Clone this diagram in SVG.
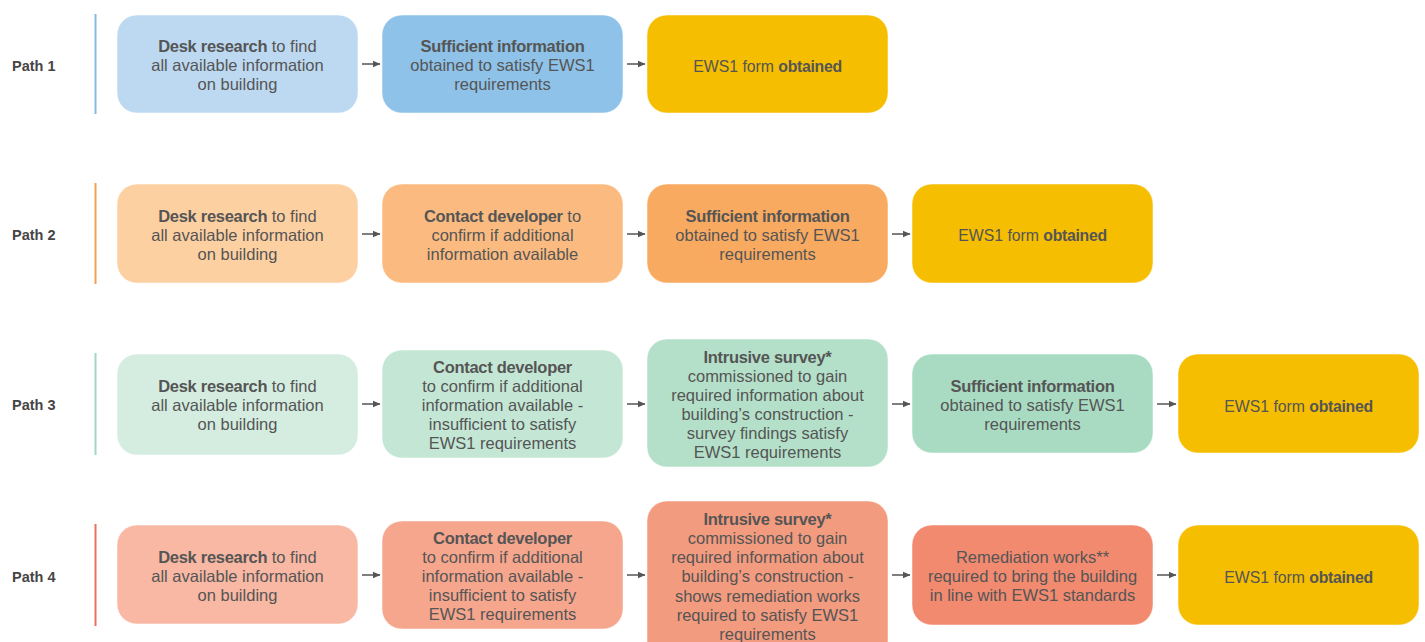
<svg xmlns="http://www.w3.org/2000/svg" width="1425" height="642" viewBox="0 0 1425 642">
<defs>
<marker id="ah" markerWidth="8" markerHeight="8" refX="7" refY="4" orient="auto" markerUnits="userSpaceOnUse">
<path d="M0,0.8 L7.5,4 L0,7.2 Z" fill="#555"/>
</marker>
</defs>
<style>
.lbl{font-family:"Liberation Sans",Arial,sans-serif;font-size:14.5px;font-weight:bold;fill:#454545}
.t{font-family:"Liberation Sans",Arial,sans-serif;font-size:16.5px;fill:#555;text-anchor:middle}
.e{font-size:15.8px}
.b{font-weight:bold;letter-spacing:-0.3px}
.box{stroke:#ffffff;stroke-opacity:0.5;stroke-width:1}
.conn line{stroke:#555;stroke-width:1.5;marker-end:url(#ah)}
.ews{fill:#f6be00}
</style>
<rect width="1425" height="642" fill="#ffffff"/>

<g id="labels">
<text class="lbl" x="12" y="71">Path  1</text>
<text class="lbl" x="12" y="240">Path 2</text>
<text class="lbl" x="12" y="410">Path 3</text>
<text class="lbl" x="12" y="582">Path 4</text>
<line x1="95.5" y1="14" x2="95.5" y2="114" stroke="#86bde3" stroke-width="2"/>
<line x1="95.5" y1="183" x2="95.5" y2="284" stroke="#f5a050" stroke-width="2"/>
<line x1="95.5" y1="353" x2="95.5" y2="455" stroke="#a3d5bf" stroke-width="2"/>
<line x1="95.5" y1="524" x2="95.5" y2="626" stroke="#e8705e" stroke-width="2"/>
</g>

<!-- Path 1 -->
<g id="p1n1"><rect class="box" x="117" y="15" width="241" height="98" rx="20" fill="#bdd9f1"/>
<text class="t" x="237.5" y="52"><tspan class="b">Desk research</tspan> to find</text>
<text class="t" x="237.5" y="71">all available information</text>
<text class="t" x="237.5" y="90">on building</text></g>
<g id="p1n2"><rect class="box" x="382" y="15" width="241" height="98" rx="20" fill="#8ec2e8"/>
<text class="t" x="502.5" y="52"><tspan class="b">Sufficient information</tspan></text>
<text class="t" x="502.5" y="71">obtained to satisfy EWS1</text>
<text class="t" x="502.5" y="90">requirements</text></g>
<g id="p1n3"><rect class="box ews" x="647" y="15" width="241" height="98" rx="20"/>
<text class="t e" x="767.5" y="72">EWS1 form <tspan class="b">obtained</tspan></text></g>

<!-- Path 2 -->
<g id="p2n1"><rect class="box" x="117" y="184" width="241" height="99" rx="20" fill="#fdd0a2"/>
<text class="t" x="237.5" y="222"><tspan class="b">Desk research</tspan> to find</text>
<text class="t" x="237.5" y="241">all available information</text>
<text class="t" x="237.5" y="260">on building</text></g>
<g id="p2n2"><rect class="box" x="382" y="184" width="241" height="99" rx="20" fill="#fbbb80"/>
<text class="t" x="502.5" y="222"><tspan class="b">Contact developer</tspan> to</text>
<text class="t" x="502.5" y="241">confirm if additional</text>
<text class="t" x="502.5" y="260">information available</text></g>
<g id="p2n3"><rect class="box" x="647" y="184" width="241" height="99" rx="20" fill="#f9aa61"/>
<text class="t" x="767.5" y="222"><tspan class="b">Sufficient information</tspan></text>
<text class="t" x="767.5" y="241">obtained to satisfy EWS1</text>
<text class="t" x="767.5" y="260">requirements</text></g>
<g id="p2n4"><rect class="box ews" x="912" y="184" width="241" height="99" rx="20"/>
<text class="t e" x="1032.5" y="241">EWS1 form <tspan class="b">obtained</tspan></text></g>

<!-- Path 3 -->
<g id="p3n1"><rect class="box" x="117" y="354" width="241" height="101" rx="20" fill="#d4ede0"/>
<text class="t" x="237.5" y="392"><tspan class="b">Desk research</tspan> to find</text>
<text class="t" x="237.5" y="411">all available information</text>
<text class="t" x="237.5" y="430">on building</text></g>
<g id="p3n2"><rect class="box" x="382" y="350" width="241" height="108" rx="20" fill="#c4e7d5"/>
<text class="t" x="502.5" y="373"><tspan class="b">Contact developer</tspan></text>
<text class="t" x="502.5" y="392">to confirm if additional</text>
<text class="t" x="502.5" y="411">information available -</text>
<text class="t" x="502.5" y="430">insufficient to satisfy</text>
<text class="t" x="502.5" y="449">EWS1 requirements</text></g>
<g id="p3n3"><rect class="box" x="647" y="339" width="241" height="128" rx="20" fill="#b4e0c9"/>
<text class="t" x="767.5" y="363"><tspan class="b">Intrusive survey*</tspan></text>
<text class="t" x="767.5" y="382">commissioned to gain</text>
<text class="t" x="767.5" y="401">required information about</text>
<text class="t" x="767.5" y="420">building’s construction -</text>
<text class="t" x="767.5" y="439">survey findings satisfy</text>
<text class="t" x="767.5" y="458">EWS1 requirements</text></g>
<g id="p3n4"><rect class="box" x="912" y="354" width="241" height="99" rx="20" fill="#a9dbc3"/>
<text class="t" x="1032.5" y="392"><tspan class="b">Sufficient information</tspan></text>
<text class="t" x="1032.5" y="411">obtained to satisfy EWS1</text>
<text class="t" x="1032.5" y="430">requirements</text></g>
<g id="p3n5"><rect class="box ews" x="1178" y="354" width="241" height="99" rx="20"/>
<text class="t e" x="1298.5" y="412">EWS1 form <tspan class="b">obtained</tspan></text></g>

<!-- Path 4 -->
<g id="p4n1"><rect class="box" x="117" y="525" width="241" height="99" rx="20" fill="#f8b8a3"/>
<text class="t" x="237.5" y="563"><tspan class="b">Desk research</tspan> to find</text>
<text class="t" x="237.5" y="582">all available information</text>
<text class="t" x="237.5" y="601">on building</text></g>
<g id="p4n2"><rect class="box" x="382" y="521" width="241" height="108" rx="20" fill="#f5a68d"/>
<text class="t" x="502.5" y="544"><tspan class="b">Contact developer</tspan></text>
<text class="t" x="502.5" y="563">to confirm if additional</text>
<text class="t" x="502.5" y="582">information available -</text>
<text class="t" x="502.5" y="601">insufficient to satisfy</text>
<text class="t" x="502.5" y="620">EWS1 requirements</text></g>
<g id="p4n3"><rect class="box" x="647" y="501" width="241" height="160" rx="20" fill="#f39b7f"/>
<text class="t" x="767.5" y="525"><tspan class="b">Intrusive survey*</tspan></text>
<text class="t" x="767.5" y="544">commissioned to gain</text>
<text class="t" x="767.5" y="563">required information about</text>
<text class="t" x="767.5" y="582">building’s construction -</text>
<text class="t" x="767.5" y="602">shows remediation works</text>
<text class="t" x="767.5" y="621">required to satisfy EWS1</text>
<text class="t" x="767.5" y="640">requirements</text></g>
<g id="p4n4"><rect class="box" x="912" y="525" width="241" height="100" rx="20" fill="#f28a70"/>
<text class="t" x="1032.5" y="563">Remediation works**</text>
<text class="t" x="1032.5" y="582">required to bring the building</text>
<text class="t" x="1032.5" y="601">in line with EWS1 standards</text></g>
<g id="p4n5"><rect class="box ews" x="1178" y="525" width="241" height="100" rx="20"/>
<text class="t e" x="1298.5" y="583">EWS1 form <tspan class="b">obtained</tspan></text></g>

<g id="connectors" class="conn">
<line x1="362" y1="64" x2="380" y2="64"/>
<line x1="627" y1="64" x2="645" y2="64"/>
<line x1="362" y1="234" x2="380" y2="234"/>
<line x1="627" y1="234" x2="645" y2="234"/>
<line x1="892" y1="234" x2="910" y2="234"/>
<line x1="362" y1="404" x2="380" y2="404"/>
<line x1="627" y1="404" x2="645" y2="404"/>
<line x1="892" y1="404" x2="910" y2="404"/>
<line x1="1157" y1="404" x2="1176" y2="404"/>
<line x1="362" y1="575" x2="380" y2="575"/>
<line x1="627" y1="575" x2="645" y2="575"/>
<line x1="892" y1="575" x2="910" y2="575"/>
<line x1="1157" y1="575" x2="1176" y2="575"/>
</g>
</svg>
